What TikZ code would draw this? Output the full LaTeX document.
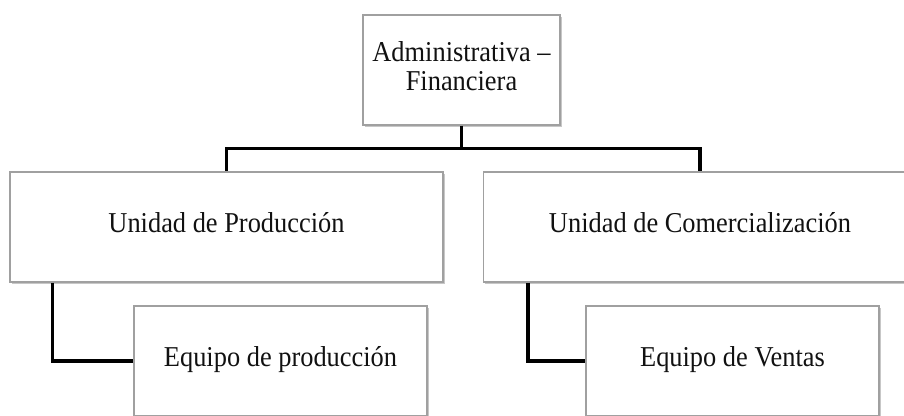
\documentclass[tikz,border=0pt]{standalone}
\usepackage{fontspec}
\setmainfont{Liberation Serif}
\usepackage{tikz}
\usetikzlibrary{positioning,shadows,calc}
\definecolor{orgline}{HTML}{A0A0A0}
\definecolor{orgink}{HTML}{111111}
% text in the boxes is a little taller than wide
\newcommand\boxtext[1]{\scalebox{1}[1.09]{\begin{tabular}{@{}c@{}}#1\end{tabular}}}
\tikzset{
  unitbox/.style={draw=orgline,line width=0.8pt,fill=white,
              drop shadow={shadow xshift=1.2pt,shadow yshift=-1.5pt,fill=black,opacity=.22},
              inner sep=2pt,align=center,text=orgink,
              font=\fontsize{19.8}{20}\selectfont},
  headbox/.style={unitbox,minimum width=147.75pt,minimum height=82.5pt},
  areabox/.style={unitbox,minimum width=324.75pt,minimum height=82.5pt},
  teambox/.style={unitbox,minimum width=219.75pt,minimum height=82.5pt},
  link/.style={line width=2.8pt,draw=black},
}

\begin{document}
\begin{tikzpicture}[x=0.75pt,y=-0.75pt]
  \useasboundingbox (0,0) rectangle (904,415);
  \clip (0,0) rectangle (904,415);
  \node[headbox] (adm) at (461.5,70) {\boxtext{Administrativa --\\Financiera}};
  \node[areabox] (prod) at (226.5,227) {\boxtext{Unidad de Producción}};
  \node[areabox] (com) at (700,227) {\boxtext{Unidad de Comercialización}};
  \node[teambox] (eqp) at (280.5,361) {\boxtext{Equipo de producción}};
  \node[teambox] (eqv) at (732.5,361) {\boxtext{Equipo de Ventas}};
  \coordinate (bus) at ($(adm.south)+(0,23)$);
  \draw[link] (adm.south) -- (bus) -| (prod.north);
  \draw[link] (bus) -| (com.north);
  \draw[link] ([xshift=32.25pt]prod.south west) |- (eqp.west);
  \draw[link] ([xshift=33.75pt]com.south west) |- (eqv.west);
\end{tikzpicture}
\end{document}
